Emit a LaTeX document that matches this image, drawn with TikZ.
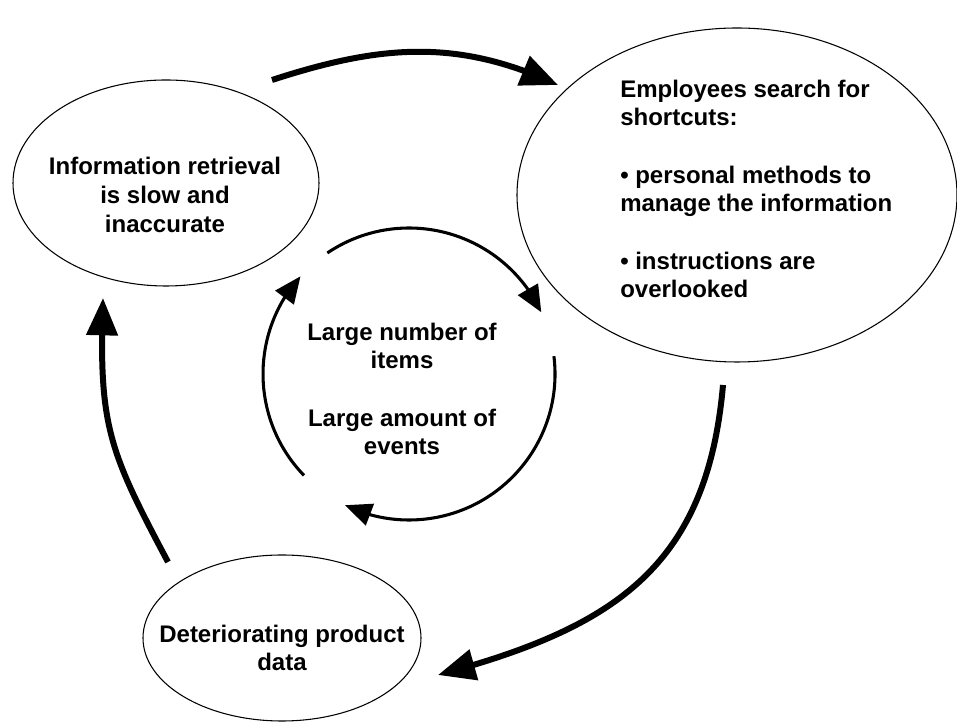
\documentclass[tikz,border=0pt]{standalone}
\usepackage{fontspec}
\setmainfont{Liberation Sans}
\usetikzlibrary{shapes.geometric,arrows.meta,bending}

\begin{document}
\begin{tikzpicture}[x=0.75pt, y=0.75pt,
  oval/.style={ellipse, draw, line width=0.8pt, inner sep=0pt},
  txt/.style={inner sep=0pt, font=\fontsize{18}{21.5}\selectfont\bfseries},
  bigarrow/.style={line width=4.5pt, -{Triangle[length=28pt,width=23pt]}},
  smallarrow/.style={line width=2.3pt, -{Triangle[length=20pt,width=17pt]}}]
  \useasboundingbox (0,0) rectangle (957,724);

  \node[oval, minimum width=229.5pt, minimum height=154.5pt] (info) at (166,541) {};
  \node[txt, align=center] (infoText) at (165,529) {Information retrieval\\is slow and\\inaccurate};

  \node[oval, minimum width=330pt, minimum height=250.5pt] (emp) at (737,529) {};
  \node[txt, align=left, anchor=west] (empText) at (620,535) {Employees search for\\shortcuts:\\[21.5pt]• personal methods to\\manage the information\\[21.5pt]• instructions are\\overlooked};

  \node[oval, minimum width=208.5pt, minimum height=124.5pt] (det) at (282,86) {};
  \node[txt, align=center] (detText) at (282,76) {Deteriorating product\\data};

  \node[txt, align=center] (items) at (402,335) {Large number of\\items\\[21.5pt]Large amount of\\events};

  \coordinate (infoOut) at (272,644);
  \coordinate (empIn) at (558,639);
  \coordinate (empOut) at (723,339);
  \coordinate (detIn) at (438,49);
  \coordinate (detOut) at (168,162);
  \coordinate (infoIn) at (103,426);
  \draw[bigarrow] (infoOut) to[out=18, in=155] (empIn);
  \draw[bigarrow] (empOut) to[out=-95, in=15, looseness=1.15] (detIn);
  \draw[bigarrow] (detOut) to[out=118, in=-92, looseness=1.2] (infoIn);

  \coordinate (hub) at (409,350);
  \draw[smallarrow] (hub) ++(124:146) arc[start angle=124, end angle=25, radius=146];
  \draw[smallarrow] (hub) ++(7:146) arc[start angle=7, end angle=-116, radius=146];
  \draw[smallarrow] (hub) ++(224:146) arc[start angle=224, end angle=138, radius=146];
\end{tikzpicture}
\end{document}
